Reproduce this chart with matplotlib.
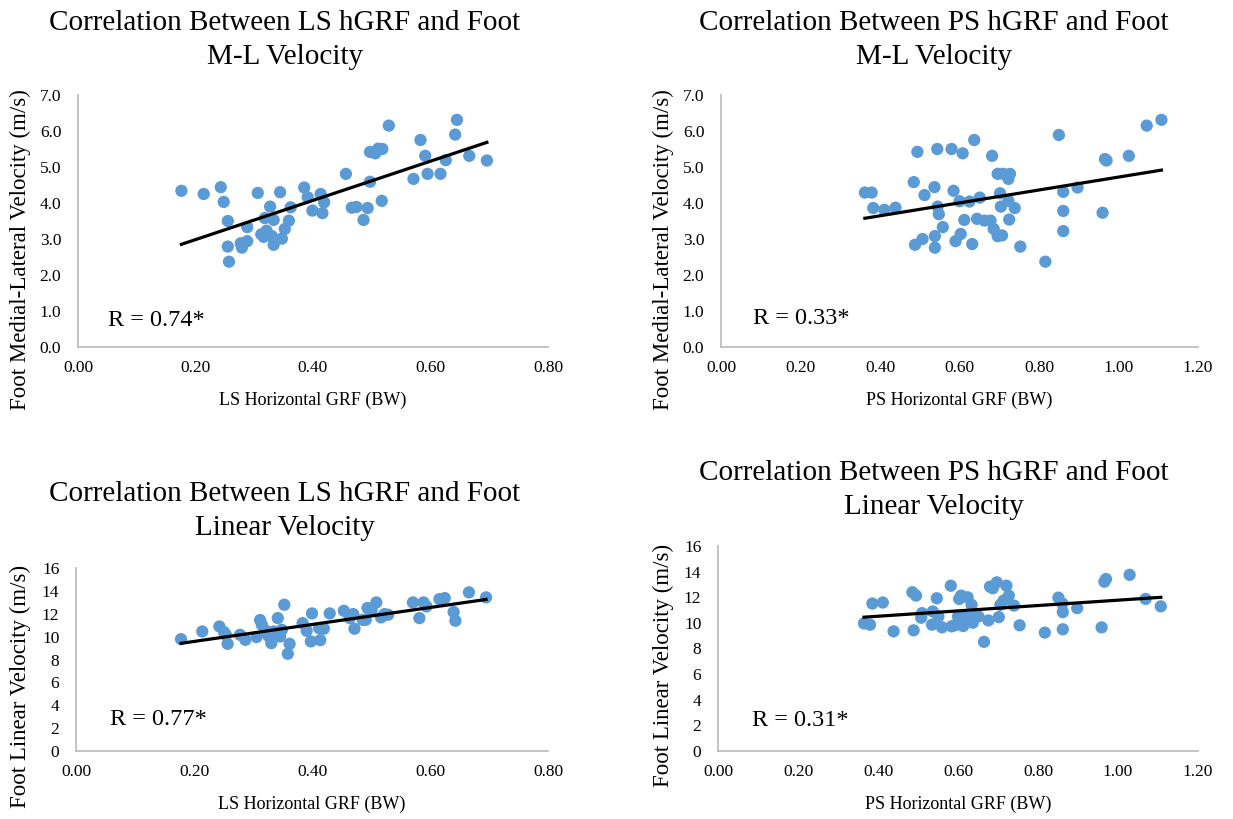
import matplotlib
matplotlib.use("Agg")
import matplotlib.pyplot as plt
import numpy as np

plt.rcParams['font.family'] = ['Liberation Serif', 'DejaVu Serif']

# LS hGRF vs foot M-L velocity
ls_grf_ml = [0.176, 0.214, 0.243, 0.248, 0.255, 0.255, 0.257, 0.277, 0.279, 0.288,
             0.288, 0.306, 0.312, 0.318, 0.321, 0.316, 0.327, 0.330, 0.333, 0.333,
             0.344, 0.347, 0.352, 0.359, 0.362, 0.385, 0.391, 0.399, 0.413, 0.416,
             0.419, 0.456, 0.466, 0.474, 0.486, 0.493, 0.497, 0.497, 0.506, 0.511,
             0.518, 0.517, 0.529, 0.571, 0.583, 0.591, 0.595, 0.617, 0.626, 0.642,
             0.645, 0.666, 0.696]
ml_vel_ls = [4.34, 4.25, 4.44, 4.03, 3.50, 2.79, 2.37, 2.88, 2.76, 2.94,
             3.33, 4.28, 3.13, 3.58, 3.23, 3.06, 3.90, 3.08, 3.53, 2.84,
             4.30, 3.01, 3.28, 3.51, 3.88, 4.43, 4.16, 3.79, 4.25, 3.72,
             4.02, 4.81, 3.87, 3.89, 3.53, 3.86, 4.59, 5.42, 5.38, 5.51,
             5.50, 4.06, 6.15, 4.67, 5.75, 5.31, 4.81, 4.81, 5.19, 5.90,
             6.31, 5.31, 5.18]

# PS hGRF vs foot M-L velocity
ps_grf_ml = [0.362, 0.379, 0.383, 0.411, 0.439, 0.485, 0.488, 0.494, 0.507, 0.512,
             0.537, 0.538, 0.538, 0.544, 0.545, 0.548, 0.558, 0.580, 0.585, 0.590,
             0.600, 0.603, 0.608, 0.612, 0.625, 0.632, 0.637, 0.644, 0.651, 0.663,
             0.678, 0.682, 0.686, 0.696, 0.696, 0.702, 0.704, 0.707, 0.710, 0.723,
             0.725, 0.727, 0.723, 0.739, 0.753, 0.816, 0.850, 0.861, 0.861, 0.861,
             0.897, 0.960, 0.966, 0.970, 1.026, 1.071, 1.108]
ml_vel_ps = [4.29, 4.29, 3.86, 3.81, 3.87, 4.58, 2.84, 5.42, 3.00, 4.22,
             4.44, 3.08, 2.76, 5.50, 3.90, 3.69, 3.33, 5.50, 4.34, 2.94,
             4.05, 3.14, 5.38, 3.53, 4.04, 2.86, 5.75, 3.56, 4.15, 3.51,
             3.51, 5.31, 3.28, 3.08, 4.81, 4.27, 3.90, 3.10, 4.81, 4.67,
             3.54, 4.81, 4.06, 3.86, 2.79, 2.37, 5.89, 4.31, 3.78, 3.22,
             4.43, 3.73, 5.22, 5.18, 5.31, 6.15, 6.31]

# LS hGRF vs foot linear velocity
ls_grf_lin = [0.178, 0.214, 0.243, 0.251, 0.257, 0.254, 0.278, 0.287, 0.306, 0.312,
              0.315, 0.322, 0.326, 0.331, 0.335, 0.342, 0.346, 0.349, 0.353, 0.359,
              0.362, 0.384, 0.391, 0.398, 0.400, 0.414, 0.412, 0.420, 0.430, 0.454,
              0.464, 0.470, 0.472, 0.486, 0.491, 0.494, 0.501, 0.509, 0.517, 0.523,
              0.529, 0.571, 0.582, 0.589, 0.594, 0.616, 0.625, 0.640, 0.643, 0.666,
              0.695]
lin_vel_ls = [9.78, 10.45, 10.89, 10.39, 9.37, 10.16, 10.16, 9.72, 9.96, 11.45,
              11.04, 10.51, 10.07, 9.43, 10.45, 11.62, 10.01, 10.60, 12.79, 8.50,
              9.37, 11.18, 10.51, 9.58, 12.03, 9.69, 10.74, 10.69, 12.03, 12.26,
              11.62, 11.97, 10.69, 11.47, 11.47, 12.50, 12.35, 12.99, 11.68, 11.97,
              11.91, 12.99, 11.62, 12.99, 12.64, 13.28, 13.37, 12.15, 11.39, 13.87,
              13.43]

# PS hGRF vs foot linear velocity
ps_grf_lin = [0.365, 0.380, 0.386, 0.412, 0.439, 0.486, 0.495, 0.489, 0.510, 0.508,
              0.537, 0.535, 0.547, 0.551, 0.560, 0.582, 0.584, 0.592, 0.603, 0.608,
              0.600, 0.613, 0.617, 0.624, 0.634, 0.637, 0.640, 0.651, 0.665, 0.676,
              0.680, 0.687, 0.697, 0.702, 0.706, 0.721, 0.727, 0.714, 0.740, 0.754,
              0.817, 0.851, 0.861, 0.862, 0.862, 0.898, 0.959, 0.966, 0.970, 1.029,
              1.069, 1.107]
lin_vel_ps = [9.96, 9.86, 11.51, 11.59, 9.34, 12.39, 12.13, 9.42, 10.76, 10.40,
              10.89, 9.86, 11.92, 10.50, 9.65, 12.90, 9.73, 9.81, 11.87, 12.13,
              10.50, 9.75, 10.45, 12.00, 11.41, 10.01, 10.58, 10.50, 8.52, 10.19,
              12.83, 12.70, 13.16, 10.45, 11.41, 12.90, 12.13, 11.74, 11.35, 9.81,
              9.24, 11.97, 11.51, 10.84, 9.50, 11.15, 9.65, 13.21, 13.42, 13.75,
              11.87, 11.29]

titles = ["Correlation Between LS hGRF and Foot\nM-L Velocity",
          "Correlation Between PS hGRF and Foot\nM-L Velocity",
          "Correlation Between LS hGRF and Foot\nLinear Velocity",
          "Correlation Between PS hGRF and Foot\nLinear Velocity"]
r_labels = ["R = 0.74*", "R = 0.33*", "R = 0.77*", "R = 0.31*"]

W, H = 1233, 819
fig = plt.figure(figsize=(W / 100, H / 100), dpi=100)


def px_rect(left, right, top, bottom):
    return [left / W, 1 - bottom / H, (right - left) / W, (bottom - top) / H]


panels = [
    dict(rect=px_rect(78, 548, 95, 347), x=ls_grf_ml, y=ml_vel_ls, xmax=0.8, ymax=7,
         ystep=1, yfmt="{:.1f}", xlabel="LS Horizontal GRF (BW)",
         ylabel="Foot Medial-Lateral Velocity (m/s)", ylabel_xy=(20, 250),
         title_xy=(285, 40), r_pos=(0.064, 0.107)),
    dict(rect=px_rect(721, 1198, 95, 347), x=ps_grf_ml, y=ml_vel_ps, xmax=1.2, ymax=7,
         ystep=1, yfmt="{:.1f}", xlabel="PS Horizontal GRF (BW)",
         ylabel="Foot Medial-Lateral Velocity (m/s)", ylabel_xy=(663, 250),
         title_xy=(934, 40), r_pos=(0.067, 0.115)),
    dict(rect=px_rect(76, 548, 568, 751), x=ls_grf_lin, y=lin_vel_ls, xmax=0.8, ymax=16,
         ystep=2, yfmt="{:.0f}", xlabel="LS Horizontal GRF (BW)",
         ylabel="Foot Linear Velocity (m/s)", ylabel_xy=(20, 686),
         title_xy=(285, 511), r_pos=(0.072, 0.17)),
    dict(rect=px_rect(718, 1198, 546, 751), x=ps_grf_lin, y=lin_vel_ps, xmax=1.2, ymax=16,
         ystep=2, yfmt="{:.0f}", xlabel="PS Horizontal GRF (BW)",
         ylabel="Foot Linear Velocity (m/s)", ylabel_xy=(663, 665),
         title_xy=(934, 490), r_pos=(0.071, 0.151)),
]

for p, title, rlab in zip(panels, titles, r_labels):
    ax = fig.add_axes(p["rect"])
    x = np.array(p["x"])
    y = np.array(p["y"])
    ax.scatter(x, y, s=78, color="#5B9BD5", edgecolors="none", zorder=3)

    # linear trendline
    slope, intercept = np.polyfit(x, y, 1)
    xs = np.array([x.min(), x.max()])
    ax.plot(xs, slope * xs + intercept, color="black", lw=2.3, zorder=4)

    ax.set_xlim(0, p["xmax"])
    ax.set_ylim(0, p["ymax"])
    xt = np.arange(0, p["xmax"] + 1e-9, 0.2)
    yt = np.arange(0, p["ymax"] + 1e-9, p["ystep"])
    ax.set_xticks(xt)
    ax.set_xticklabels(["{:.2f}".format(v) for v in xt])
    ax.set_yticks(yt)
    ax.set_yticklabels([p["yfmt"].format(v) for v in yt])
    ax.tick_params(length=0, labelsize=12.5, colors="black")
    ax.tick_params(axis="x", pad=9)
    ax.tick_params(axis="y", pad=12)

    for side in ["top", "right"]:
        ax.spines[side].set_visible(False)
    for side in ["left", "bottom"]:
        ax.spines[side].set_color("#BFBFBF")
        ax.spines[side].set_linewidth(1.3)

    ax.set_xlabel(p["xlabel"], fontsize=13, labelpad=12)
    lx, ly = p["ylabel_xy"]
    fig.text(lx / W, 1 - ly / H, p["ylabel"], rotation=90, ha="center", va="center",
             fontsize=16.5)
    ax.text(p["r_pos"][0], p["r_pos"][1], rlab, transform=ax.transAxes,
            fontsize=17.5, ha="left", va="center")

    tx, ty = p["title_xy"]
    fig.text(tx / W, 1 - ty / H, title, ha="center", va="center",
             fontsize=21, linespacing=1.4)

fig.savefig("out.png", dpi=100, facecolor="white")
